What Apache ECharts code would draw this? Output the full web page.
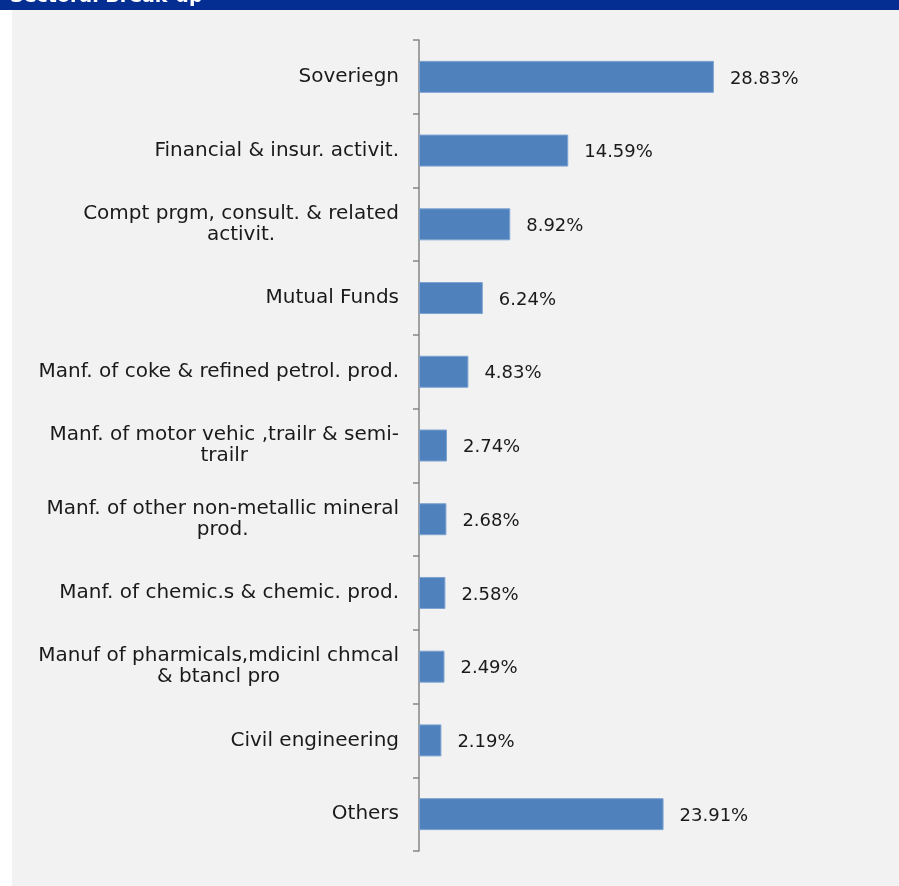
<!DOCTYPE html>
<html>
<head>
<meta charset="utf-8">
<style>
html,body{margin:0;padding:0;background:#ffffff;}
#chart{width:899px;height:886px;}
</style>
<script src="https://cdn.jsdelivr.net/npm/echarts@6/dist/echarts.min.js"></script>
</head>
<body>
<div id="chart"></div>
<script>
const categories = [
  "Soveriegn",
  "Financial & insur. activit.",
  "Compt prgm, consult. & related\nactivit.",
  "Mutual Funds",
  "Manf. of coke & refined petrol. prod.",
  "Manf. of motor vehic ,trailr & semi-\ntrailr",
  "Manf. of other non-metallic mineral\nprod.",
  "Manf. of chemic.s & chemic. prod.",
  "Manuf of pharmicals,mdicinl chmcal\n& btancl pro",
  "Civil engineering",
  "Others"
];
const values = [28.83, 14.59, 8.92, 6.24, 4.83, 2.74, 2.68, 2.58, 2.49, 2.19, 23.91];
const headerTitle = "Sectoral Break-up";

const chart = echarts.init(document.getElementById('chart'), null, {renderer: 'canvas'});
const FONT = "'DejaVu Sans', sans-serif";
chart.setOption({
  backgroundColor: '#ffffff',
  animation: false,
  graphic: [
    {type: 'rect', left: 12, top: 10, shape: {width: 887, height: 876}, style: {fill: '#f2f2f2'}, z: -10},
    {type: 'rect', left: 0, top: 0, shape: {width: 899, height: 10}, style: {fill: '#042e92'}, z: -10},
    {type: 'text', left: 10, top: -12, style: {text: headerTitle, fill: '#ffffff', font: 'bold 19px ' + FONT}, z: -5},
    {type: 'rect', left: 0, top: 10, shape: {width: 899, height: 4}, style: {fill: '#f2f2f2'}, z: -4},
    {type: 'rect', left: 0, top: 10, shape: {width: 12, height: 876}, style: {fill: '#ffffff'}, z: -3}
  ],
  grid: {left: 419, right: 122, top: 40, bottom: 35, containLabel: false},
  xAxis: {type: 'value', min: 0, max: 35, show: false},
  yAxis: {
    type: 'category',
    inverse: true,
    data: categories,
    axisLine: {show: true, lineStyle: {color: '#868686', width: 1.5}},
    axisTick: {show: true, length: 6, lineStyle: {color: '#868686', width: 1.5}},
    axisLabel: {
      color: '#1a1a1a', fontFamily: FONT, fontSize: 20, margin: 20, lineHeight: 21, align: 'right',
      formatter: v => v.split('\n').map(s => '{c|' + s + '}').join('\n'),
      rich: {c: {align: 'center', fontFamily: FONT, fontSize: 20, lineHeight: 21, color: '#1a1a1a'}}
    },
    splitLine: {show: false}
  },
  series: [{
    type: 'bar',
    data: values,
    barWidth: 32,
    itemStyle: {color: '#4f81bd', borderColor: '#7ea3d1', borderWidth: 1},
    label: {show: true, position: 'right', distance: 16, offset: [0, 2], color: '#1a1a1a', fontFamily: FONT, fontSize: 18,
      formatter: p => p.value.toFixed(2) + '%'}
  }]
});
</script>
</body>
</html>
